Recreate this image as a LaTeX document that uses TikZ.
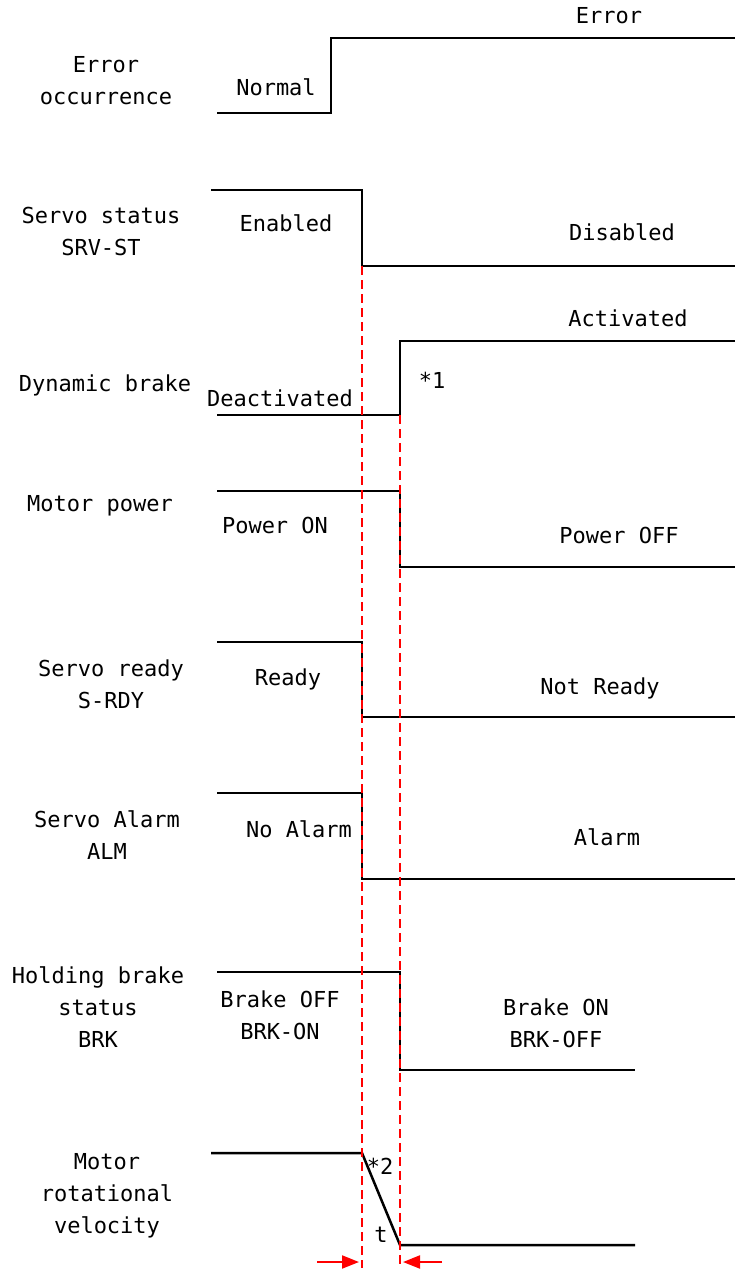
\documentclass[tikz,border=0pt]{standalone}
\usepackage{fontspec}
\setmainfont{DejaVu Sans Mono}
\usetikzlibrary{arrows.meta}

\begin{document}
\begin{tikzpicture}[
x=1pt, y=-1pt,
every node/.style={font=\fontsize{22}{32}\selectfont, inner sep=0pt, align=center, anchor=base},
signal/.style={line width=2.5pt},
marker/.style={red, line width=2pt, dash pattern=on 9pt off 5pt},
gap/.style={-{Triangle[length=17pt,width=13pt]}, red, line width=2pt}
]
\useasboundingbox (0,0) rectangle (735,1271);

% Signal names
\node (errname) at (106,105) {Error\\occurrence};
\node (srvname) at (101,255) {Servo status\\SRV-ST};
\node (dbname) at (105,391) {Dynamic brake};
\node (pwrname) at (100,511) {Motor power};
\node (rdyname) at (111,708) {Servo ready\\S-RDY};
\node (almname) at (107,859) {Servo Alarm\\ALM};
\node (brkname) at (98,1047) {Holding brake\\status\\BRK};
\node (velname) at (107,1233) {Motor\\rotational\\velocity};

% Waveforms
\draw[signal] (217,113) -- (331,113) -- (331,38) -- (735,38);
\draw[signal] (211,190) -- (362,190) -- (362,266) -- (735,266);
\draw[signal] (217,415) -- (400,415) -- (400,341) -- (735,341);
\draw[signal] (217,491) -- (400,491) -- (400,567) -- (735,567);
\draw[signal] (217,642) -- (362,642) -- (362,717) -- (735,717);
\draw[signal] (217,793) -- (362,793) -- (362,879) -- (735,879);
\draw[signal] (217,972) -- (400,972) -- (400,1070) -- (635,1070);
\draw[signal] (211,1153) -- (362,1153) -- (400,1245) -- (635,1245);

% States
\node (normal) at (276,96) {Normal};
\node (error) at (609,24) {Error};
\node (enabled) at (286,231) {Enabled};
\node (disabled) at (622,240) {Disabled};
\node (deact) at (280,406) {Deactivated};
\node (act) at (628,326) {Activated};
\node (note1) at (432,388) {*1};
\node (pwron) at (275,533) {Power ON};
\node (pwroff) at (619,543) {Power OFF};
\node (ready) at (288,685) {Ready};
\node (notready) at (600,694) {Not Ready};
\node (noalarm) at (299,837) {No Alarm};
\node (alarm) at (607,845) {Alarm};
\node (brkoff) at (280,1039) {Brake OFF\\BRK-ON};
\node (brkon) at (556,1047) {Brake ON\\BRK-OFF};
\node (note2) at (380,1174) {*2};
\node (tlabel) at (381,1242) {t};

% Timing markers
\coordinate (stop) at (362,266);
\coordinate (stopend) at (362,1268);
\coordinate (brake) at (400,415);
\coordinate (brakeend) at (400,1268);
\coordinate (lefttail) at (317,1262);
\coordinate (lefttip) at (359,1262);
\coordinate (righttail) at (442,1262);
\coordinate (righttip) at (403,1262);
\draw[marker] (stop) -- (stopend);
\draw[marker] (brake) -- (brakeend);
\draw[gap] (lefttail) -- (lefttip);
\draw[gap] (righttail) -- (righttip);

\end{tikzpicture}
\end{document}
